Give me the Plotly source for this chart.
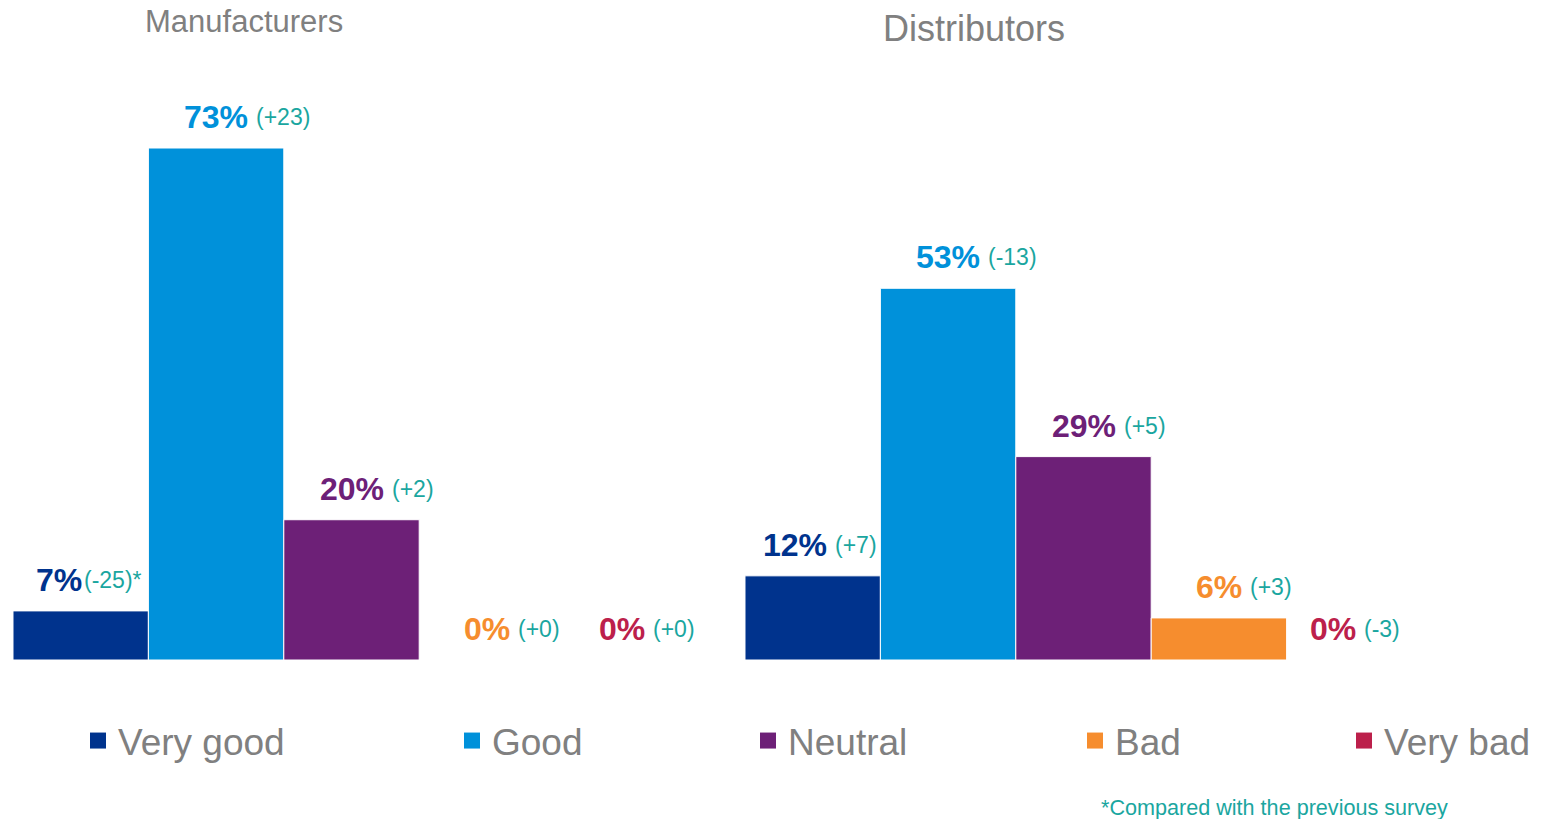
import plotly.graph_objects as go

# ---------------- data ----------------
groups = ["Manufacturers", "Distributors"]
ratings = ["Very good", "Good", "Neutral", "Bad", "Very bad"]
manufacturers_pct = [7, 73, 20, 0, 0]
distributors_pct = [12, 53, 29, 6, 0]
manufacturers_change = ["(-25)*", "(+23)", "(+2)", "(+0)", "(+0)"]
distributors_change = ["(+7)", "(-13)", "(+5)", "(+3)", "(-3)"]
footnote = "*Compared with the previous survey"

# ---------------- style ----------------
colors = ["#00338D", "#0091DA", "#6D2077", "#F68D2E", "#BC204B"]
teal = "#1AA6A0"
gray = "#808080"
FONT = "Arial, Liberation Sans, sans-serif"
W, H = 1541, 819
PLOT_H = 660
BARGAP = 0.0751
BARW = (1 - BARGAP) / len(ratings)
PCT_SIZE = 32
CHG_SIZE = 23
# small horizontal nudges (px) for labels that are not centred on their bar
label_nudge = {(0, 0): -22, (1, 0): -18, (1, 4): -21}
change_gap = {(0, 0): 0}
legend_x_px = [78, 452, 748, 1075, 1344]

fig = go.Figure()
for i, r in enumerate(ratings):
    fig.add_trace(go.Bar(
        name=r, x=groups, y=[manufacturers_pct[i], distributors_pct[i]],
        marker=dict(color=colors[i], line=dict(color="white", width=1)),
        showlegend=False, hoverinfo="skip"))

# legend entries (square markers)
for i, r in enumerate(ratings):
    lg = "legend" if i == 0 else f"legend{i+1}"
    fig.add_trace(go.Scatter(
        name=r, x=[None], y=[None], mode="markers",
        marker=dict(symbol="square", size=16, color=colors[i]),
        legend=lg, showlegend=True))


def text_w(s, size):
    return sum(0.889 if ch == "%" else 0.556 for ch in s) * size


annotations = []
for gi, (vals, chg) in enumerate([(manufacturers_pct, manufacturers_change),
                                  (distributors_pct, distributors_change)]):
    for i, v in enumerate(vals):
        xc = gi + (i - 2) * BARW
        nud = label_nudge.get((gi, i), 0)
        ptxt = f"{v}%"
        pw = text_w(ptxt, PCT_SIZE)
        annotations.append(dict(
            x=xc, y=v, xref="x", yref="y", text=f"<b>{ptxt}</b>",
            showarrow=False, xanchor="center", yanchor="middle",
            yshift=31, xshift=nud,
            font=dict(family=FONT, size=PCT_SIZE, color=colors[i])))
        annotations.append(dict(
            x=xc, y=v, xref="x", yref="y", text=chg[i],
            showarrow=False, xanchor="left", yanchor="middle",
            yshift=31, xshift=nud + pw / 2 + change_gap.get((gi, i), 6),
            font=dict(family=FONT, size=CHG_SIZE, color=teal)))

annotations += [
    dict(text="Manufacturers", x=244 / W, y=(PLOT_H - 22) / PLOT_H,
         xref="paper", yref="paper", showarrow=False, xanchor="center",
         yanchor="middle", font=dict(family=FONT, size=31, color=gray)),
    dict(text="Distributors", x=974 / W, y=(PLOT_H - 28) / PLOT_H,
         xref="paper", yref="paper", showarrow=False, xanchor="center",
         yanchor="middle", font=dict(family=FONT, size=36, color=gray)),
    dict(text=footnote, x=1099 / W, y=(PLOT_H - 808) / PLOT_H,
         xref="paper", yref="paper", showarrow=False, xanchor="left",
         yanchor="middle", font=dict(family=FONT, size=21.6, color=teal)),
]

unit = 732.0
xa = -351.5 / unit
xb = xa + W / unit
ppp = 512 / 73.0

layout = dict(
    width=W, height=H,
    margin=dict(l=0, r=0, t=0, b=H - PLOT_H, pad=0),
    paper_bgcolor="white", plot_bgcolor="white",
    barmode="group", bargap=BARGAP, bargroupgap=0,
    xaxis=dict(visible=False, range=[xa, xb], fixedrange=True),
    yaxis=dict(visible=False, range=[0, PLOT_H / ppp], fixedrange=True),
    annotations=annotations,
    hovermode=False,
)
for i in range(len(ratings)):
    key = "legend" if i == 0 else f"legend{i+1}"
    layout[key] = dict(
        x=legend_x_px[i] / W, y=(PLOT_H - 741) / PLOT_H,
        xanchor="left", yanchor="middle", orientation="h",
        bgcolor="rgba(0,0,0,0)", borderwidth=0,
        font=dict(family=FONT, size=37, color=gray))
fig.update_layout(**layout)

fig.write_html(
    "out.html",
    config={"displayModeBar": False},
    post_script="document.body.style.margin='0';"
                "document.body.style.overflow='hidden';")
